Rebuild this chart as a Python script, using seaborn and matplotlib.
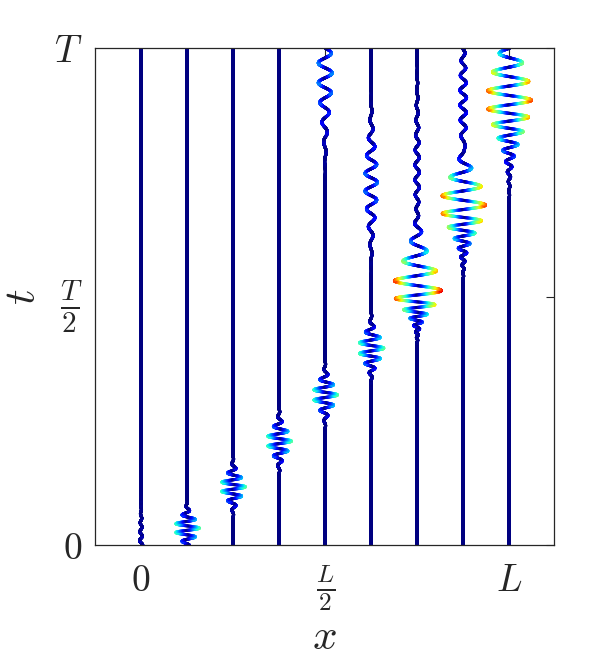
import numpy as np
import pandas as pd
import matplotlib
matplotlib.use('Agg')
import matplotlib.pyplot as plt
import seaborn as sns

# positions of the 9 probes (units of L)
x_pos = [0, 0.125, 0.25, 0.375, 0.5, 0.625, 0.75, 0.875, 1.0]

# main wave packet seen on each probe (t in units of T, amplitude in units of L)
t_center = [-0.03, 0.034, 0.117, 0.209, 0.302, 0.396, 0.512, 0.684, 0.895]
amp = [0.005, 0.033, 0.033, 0.033, 0.033, 0.034, 0.065, 0.060, 0.060]
sig_before = [0.06, 0.020, 0.022, 0.024, 0.024, 0.026, 0.036, 0.050, 0.065]
sig_after = [0.06, 0.020, 0.022, 0.024, 0.024, 0.026, 0.060, 0.055, 0.075]
period = [0.018, 0.018, 0.019, 0.020, 0.021, 0.022, 0.040, 0.038, 0.038]
chirp = [0.0, 0.0, 0.0, 0.0, 0.0, 0.1, 1.0, 0.6, 0.4]

# slower secondary ripples
sec_center = [0, 0, 0, 0, 0.95, 0.73, 0.75, 0.90, 0]
sec_amp = [0, 0, 0, 0, 0.019, 0.017, 0.006, 0.009, 0]
sec_sig = [1, 1, 1, 1, 0.08, 0.07, 0.10, 0.08, 1]
sec_period = [1, 1, 1, 1, 0.040, 0.036, 0.030, 0.030, 1]

x_ticks = [0, 0.5, 1]
x_ticklabels = ['$0$', r'$\frac{L}{2}$', '$L$']
y_ticks = [0, 0.5, 1]
y_ticklabels = ['$0$', r'$\frac{T}{2}$', '$T$']

u_ref = 0.072  # displacement mapped to the top of the colour scale

t = np.linspace(0, 1, 7000)
rows = []
for i, x0 in enumerate(x_pos):
    d = t - t_center[i]
    sig = np.where(d < 0, sig_before[i], sig_after[i])
    env = np.exp(-0.5 * (d / sig) ** 2)
    f = 1.0 / period[i] * (1 + chirp[i] * np.clip(-d / sig_before[i], 0, None))
    phase = 2 * np.pi * np.cumsum(f) * (t[1] - t[0])
    phase -= np.interp(t_center[i], t, phase)
    u = amp[i] * env * np.cos(phase)
    ds = t - sec_center[i]
    u += sec_amp[i] * np.exp(-0.5 * (ds / sec_sig[i]) ** 2) * np.cos(2 * np.pi * ds / sec_period[i])
    rows.append(pd.DataFrame({'x': x0 + u, 't': t, 'c': np.clip(np.abs(u) / u_ref, 0, 1)}))
df = pd.concat(rows, ignore_index=True)

sns.set_style('white')
plt.rcParams['mathtext.fontset'] = 'cm'
plt.rcParams['font.family'] = ['DejaVu Serif']

fig = plt.figure(figsize=(6.13, 6.56), dpi=100)
ax = fig.add_axes([0.155, 0.1692, 0.749, 0.7576])

sns.scatterplot(data=df, x='x', y='t', hue='c', palette=matplotlib.colormaps['jet'],
                hue_norm=(0, 1), s=5.0, linewidth=0, legend=False, ax=ax, rasterized=True)

ax.set_xlim(-0.125, 1.122)
ax.set_ylim(0, 1)
ax.set_xticks(x_ticks)
ax.set_xticklabels(x_ticklabels)
ax.set_yticks(y_ticks)
ax.set_yticklabels(y_ticklabels)
ax.tick_params(direction='in', length=6, width=0.8, top=True, right=True,
               labelsize=27, colors='#262626')
ax.tick_params(axis='x', pad=13)
ax.tick_params(axis='y', pad=9)
for lab in ax.get_xticklabels():
    if 'frac' in lab.get_text():
        lab.set_fontsize(26)
for lab in ax.get_yticklabels():
    if 'frac' in lab.get_text():
        lab.set_fontsize(30)
for s in ax.spines.values():
    s.set_color('#262626')
    s.set_linewidth(0.9)
ax.set_xlabel('$x$', fontsize=31, color='#262626')
ax.xaxis.set_label_coords(0.5, -0.142)
ax.set_ylabel('$t$', fontsize=31, color='#262626')
ax.yaxis.set_label_coords(-0.112, 0.5)

fig.savefig('out.png', dpi=100)
